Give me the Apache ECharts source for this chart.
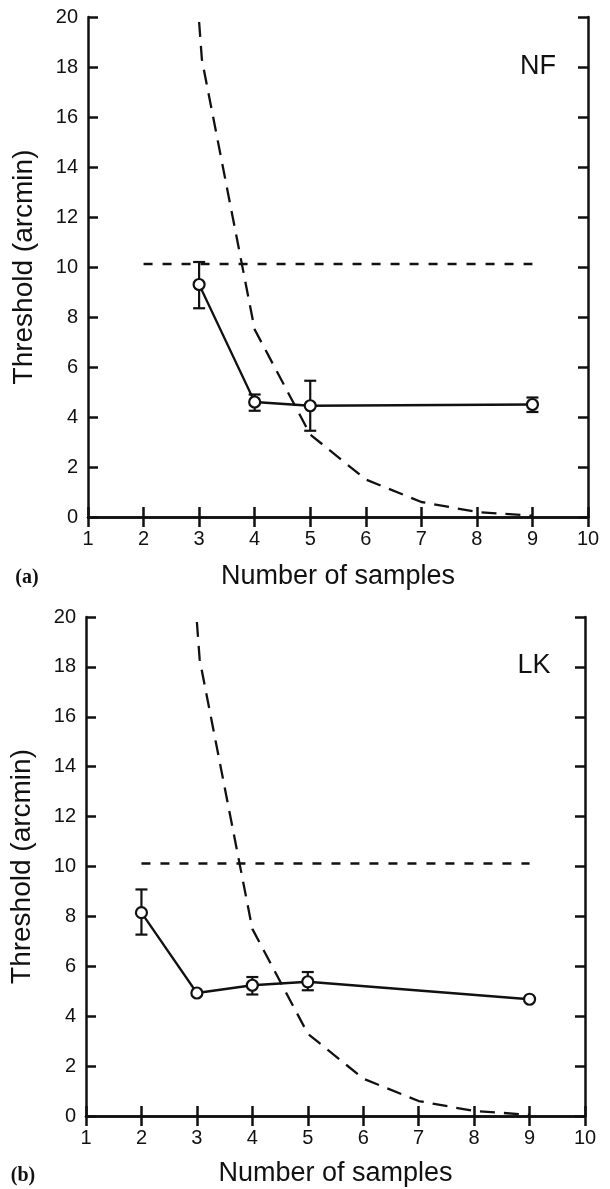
<!DOCTYPE html>
<html>
<head>
<meta charset="utf-8">
<script src="https://cdn.jsdelivr.net/npm/echarts@6/dist/echarts.min.js"></script>
<style>
  html, body { margin: 0; padding: 0; background: #fff; }
  #chart { width: 610px; height: 1189px; }
</style>
</head>
<body>
<div id="chart"></div>
<script>
// panel (a) NF
const nfX = [3, 4, 5, 9];
const nfY = [9.3, 4.6, 4.45, 4.5];
const nfLow = [8.35, 4.25, 3.45, 4.2];
const nfHigh = [10.2, 4.9, 5.45, 4.78];

// panel (b) LK
const lkX = [2, 3, 4, 5, 9];
const lkY = [8.15, 4.93, 5.24, 5.38, 4.68];
const lkLow = [7.27, null, 4.87, 5.04, null];
const lkHigh = [9.08, null, 5.57, 5.77, null];

// dashed prediction curve and chance line (same in both panels)
const predX = [3, 3.05, 4, 5, 6, 7, 8, 9];
const predY = [19.8, 18.3, 7.5, 3.3, 1.5, 0.6, 0.2, 0.05];
const chanceX = [2, 9];
const chanceY = [10.12, 10.12];

const FONT = 'Liberation Sans, Arial, sans-serif';
const ink = '#111';

const zip = (xs, ys) => xs.map((x, i) => [x, ys[i]]);
const bars = (xs, lo, hi) => xs.map((x, i) => [x, lo[i], hi[i]]).filter(d => d[1] != null);

const chart = echarts.init(document.getElementById('chart'));

function xAxes(gi, gap) {
  return [{
    gridIndex: gi, type: 'value', min: 1, max: 10, interval: 1,
    name: 'Number of samples', nameLocation: 'middle', nameGap: gap,
    nameTextStyle: { fontFamily: FONT, fontSize: 27, color: ink },
    axisLine: { lineStyle: { color: ink, width: 2.5 } },
    axisTick: { inside: true, length: 10, lineStyle: { color: ink, width: 2.5 } },
    axisLabel: { fontFamily: FONT, fontSize: 20, color: ink, margin: 12 },
    splitLine: { show: false }
  }, {
    gridIndex: gi, type: 'value', min: 1, max: 10, interval: 1, position: 'top',
    axisLine: { lineStyle: { color: ink, width: 2.5 } },
    axisTick: { inside: true, length: 10, lineStyle: { color: ink, width: 2.5 } },
    axisLabel: { show: false }, splitLine: { show: false }
  }];
}

function yAxes(gi) {
  return [{
    gridIndex: gi, type: 'value', min: 0, max: 20, interval: 2,
    name: 'Threshold (arcmin)', nameLocation: 'middle', nameGap: 50,
    nameTextStyle: { fontFamily: FONT, fontSize: 28, color: ink },
    axisLine: { lineStyle: { color: ink, width: 2.5 } },
    axisTick: { inside: true, length: 10, lineStyle: { color: ink, width: 2.5 } },
    axisLabel: { fontFamily: FONT, fontSize: 20, color: ink, margin: 10 },
    splitLine: { show: false }
  }, {
    gridIndex: gi, type: 'value', min: 0, max: 20, interval: 2, position: 'right',
    axisLine: { lineStyle: { color: ink, width: 2.5 } },
    axisTick: { inside: true, length: 10, lineStyle: { color: ink, width: 2.5 } },
    axisLabel: { show: false }, splitLine: { show: false }
  }];
}

function errorBars(ax) {
  return {
    type: 'custom', xAxisIndex: ax, yAxisIndex: ax, z: 2,
    renderItem: function (params, api) {
      const x = api.value(0);
      const lo = api.coord([x, api.value(1)]);
      const hi = api.coord([x, api.value(2)]);
      const hw = 6;
      const st = { stroke: ink, lineWidth: 2.2 };
      return {
        type: 'group',
        children: [
          { type: 'line', shape: { x1: lo[0], y1: lo[1], x2: hi[0], y2: hi[1] }, style: st },
          { type: 'line', shape: { x1: lo[0] - hw, y1: lo[1], x2: lo[0] + hw, y2: lo[1] }, style: st },
          { type: 'line', shape: { x1: hi[0] - hw, y1: hi[1], x2: hi[0] + hw, y2: hi[1] }, style: st }
        ]
      };
    }
  };
}

function panelSeries(ax, xs, ys, lo, hi) {
  return [
    {
      type: 'line', xAxisIndex: ax, yAxisIndex: ax, data: zip(predX, predY),
      symbol: 'none', silent: true, z: 1,
      lineStyle: { color: ink, width: 2.3, type: [15, 9] }
    },
    {
      type: 'line', xAxisIndex: ax, yAxisIndex: ax, data: zip(chanceX, chanceY),
      symbol: 'none', silent: true, z: 1,
      lineStyle: { color: ink, width: 2.3, type: [9, 10] }
    },
    Object.assign(errorBars(ax), { data: bars(xs, lo, hi) }),
    {
      type: 'line', xAxisIndex: ax, yAxisIndex: ax, data: zip(xs, ys),
      symbol: 'circle', symbolSize: 11, z: 3,
      itemStyle: { color: '#fff', borderColor: ink, borderWidth: 2.2 },
      lineStyle: { color: ink, width: 2.3 }
    }
  ];
}

chart.setOption({
  backgroundColor: '#fff',
  animation: false,
  grid: [
    { left: 88, top: 17, width: 500, height: 500 },
    { left: 84, top: 617, width: 501, height: 499 }
  ],
  xAxis: xAxes(0, 46).concat(xAxes(1, 44)),
  yAxis: yAxes(0).concat(yAxes(1)),
  series: panelSeries(0, nfX, nfY, nfLow, nfHigh).concat(panelSeries(2, lkX, lkY, lkLow, lkHigh)),
  graphic: [
    { type: 'text', x: 538, y: 67, style: { text: 'NF', font: '27px ' + FONT, fill: ink, textAlign: 'center', textVerticalAlign: 'middle' } },
    { type: 'text', x: 534, y: 666, style: { text: 'LK', font: '27px ' + FONT, fill: ink, textAlign: 'center', textVerticalAlign: 'middle' } },
    { type: 'text', x: 27, y: 578, style: { text: '(a)', font: 'bold 20px Liberation Serif, serif', fill: ink, textAlign: 'center', textVerticalAlign: 'middle' } },
    { type: 'text', x: 23, y: 1176, style: { text: '(b)', font: 'bold 20px Liberation Serif, serif', fill: ink, textAlign: 'center', textVerticalAlign: 'middle' } }
  ]
});
</script>
</body>
</html>
